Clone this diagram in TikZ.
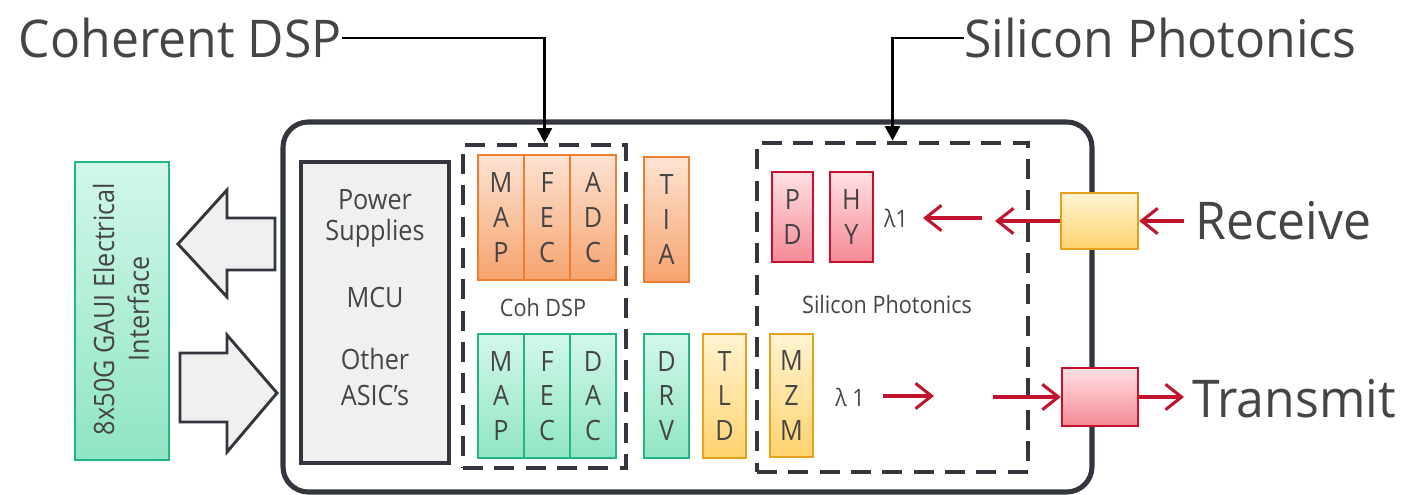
\documentclass[tikz,border=0pt]{standalone}
\usepackage{fontspec}
\setmainfont{Open Sans}[FakeStretch=0.9]
\newfontfamily\bigfamily{Open Sans}[FakeStretch=0.96]
\usetikzlibrary{arrows.meta}
\definecolor{dk}{HTML}{33373D}
\definecolor{txt}{HTML}{454545}
\definecolor{orB}{HTML}{ED7D31}
\definecolor{orT}{HTML}{FDE3D2}
\definecolor{orD}{HTML}{F6A36E}
\definecolor{grB}{HTML}{22B583}
\definecolor{grT}{HTML}{D2F7E9}
\definecolor{grD}{HTML}{8FE5C3}
\definecolor{yeB}{HTML}{E3A21A}
\definecolor{yeT}{HTML}{FFF3D2}
\definecolor{yeD}{HTML}{FFD36E}
\definecolor{reB}{HTML}{C8102E}
\definecolor{reT}{HTML}{FFE0E2}
\definecolor{reD}{HTML}{F58A95}
\definecolor{rar}{HTML}{C2142F}
\definecolor{gyF}{HTML}{F0F0F0}
\tikzset{
  blk/.style={draw, line width=1.5pt, inner sep=0pt, align=center,
    font=\fontsize{21}{26}\selectfont, text=txt},
  orblk/.style={blk, draw=orB, top color=orT, bottom color=orD},
  grblk/.style={blk, draw=grB, top color=grT, bottom color=grD},
  yeblk/.style={blk, draw=yeB, top color=yeT, bottom color=yeD},
  reblk/.style={blk, draw=reB, top color=reT, bottom color=reD},
  dashbox/.style={draw=dk, line width=3.3pt, dash pattern=on 15pt off 8.5pt, inner sep=0pt},
  biglabel/.style={font=\bigfamily\fontsize{39}{44}\selectfont, text=txt, inner sep=0pt},
  midtext/.style={font=\fontsize{21}{26}\selectfont, text=txt, inner sep=0pt},
  smalltext/.style={font=\fontsize{18}{22}\selectfont, text=txt, inner sep=0pt},
  callout/.style={draw=black, line width=2.2pt, -{Triangle[length=11pt,width=11pt]}},
  redarrow/.style={draw=rar, line width=2.3pt, -{Straight Barb[length=12pt,width=19pt,line width=2.3pt]}},
  blockarrow/.style={draw=dk, fill=gyF, line width=2.2pt, line join=miter}
}
\begin{document}
\begin{tikzpicture}[x=0.75pt,y=-0.75pt]
\useasboundingbox (0,0) rectangle (1417,495);

% outer module
\node[draw=dk, line width=3.8pt, rounded corners=19pt, minimum width=606.75pt, minimum height=277.5pt, inner sep=0pt] (module) at (687.5,307) {};

% left interface
\node[draw=grB, line width=1.5pt, top color=grT, bottom color=grD, minimum width=70.5pt, minimum height=223.5pt, inner sep=0pt] (gaui) at (122,311) {};
\node[rotate=90, align=center, font=\fontsize{21}{26}\selectfont, text=txt, inner sep=0pt] (gauitext) at (121,309) {8x50G GAUI Electrical\\Interface};

% block arrows
\draw[blockarrow] (178,244) -- (227,190) -- (227,218) -- (275,218) -- (275,270) -- (227,270) -- (227,297) -- cycle;
\draw[blockarrow] (180,353) -- (227,353) -- (227,335) -- (277,393) -- (227,452) -- (227,422) -- (180,422) -- cycle;

% gray box
\node[draw=dk, line width=2.4pt, fill=gyF, minimum width=111pt, minimum height=225.75pt, inner sep=0pt] (misc) at (375,312.5) {};
\node[midtext, anchor=base] (power) at (375,210) {Power};
\node[midtext, anchor=base] (supplies) at (375,241) {Supplies};
\node[midtext, anchor=base] (mcu) at (375,307) {MCU};
\node[midtext, anchor=base] (other) at (375,369) {Other};
\node[midtext, anchor=base] (asics) at (375,405) {ASIC's};

% coherent DSP dashed box
\node[dashbox, minimum width=122.25pt, minimum height=242.25pt] (cohbox) at (544.5,306.5) {};
\node[orblk, minimum width=34.5pt, minimum height=93.75pt] (rmap) at (501,217.5) {M\\A\\P};
\node[orblk, minimum width=34.5pt, minimum height=93.75pt] (rfec) at (547,217.5) {F\\E\\C};
\node[orblk, minimum width=34.5pt, minimum height=93.75pt] (adc) at (593,217.5) {A\\D\\C};
\node[orblk, minimum width=33.75pt, minimum height=93.75pt] (tia) at (666.5,219.5) {T\\I\\A};
\node[smalltext] (cohdsp) at (543,307) {Coh DSP};
\node[grblk, minimum width=34.5pt, minimum height=93pt] (tmap) at (501,396) {M\\A\\P};
\node[grblk, minimum width=34.5pt, minimum height=93pt] (tfec) at (547,396) {F\\E\\C};
\node[grblk, minimum width=34.5pt, minimum height=93pt] (dac) at (593,396) {D\\A\\C};
\node[grblk, minimum width=33.75pt, minimum height=93pt] (drv) at (666.5,396) {D\\R\\V};
\node[yeblk, minimum width=32.25pt, minimum height=93pt] (tld) at (724.5,396) {T\\L\\D};

% silicon photonics dashed box
\node[dashbox, minimum width=203.25pt, minimum height=246.75pt] (sibox) at (892.5,307.5) {};
\node[reblk, minimum width=30.75pt, minimum height=67.5pt] (pd) at (792.5,217) {P\\D};
\node[reblk, minimum width=32.25pt, minimum height=67.5pt] (hy) at (851.5,217) {H\\Y};
\node[smalltext] (lrx) at (896,218) {λ1};
\node[smalltext] (siph) at (887,305) {Silicon Photonics};
\node[yeblk, minimum width=32.25pt, minimum height=92.25pt] (mzm) at (791.5,395.5) {M\\Z\\M};
\node[smalltext] (ltx) at (850,397) {λ 1};

% optical ports
\node[draw=yeB, line width=1.8pt, top color=yeT, bottom color=yeD, minimum width=57.75pt, minimum height=42pt, inner sep=0pt] (rxport) at (1099.5,221) {};
\node[draw=reB, line width=1.8pt, top color=reT, bottom color=reD, minimum width=57pt, minimum height=43.5pt, inner sep=0pt] (txport) at (1100,397) {};

% labels
\node[biglabel, anchor=east] (cohlabel) at (342,38) {Coherent DSP};
\node[biglabel, anchor=west] (silabel) at (964,38) {Silicon Photonics};
\node[biglabel, anchor=west] (rxlabel) at (1195,221) {Receive};
\node[biglabel, anchor=west] (txlabel) at (1192,399) {Transmit};

% callouts
\draw[callout] (cohlabel.east) -| (cohbox.north);
\draw[callout] (silabel.west) -| (sibox.north);

% red arrows
\coordinate (rxa1s) at (982,218);
\coordinate (rxa1e) at (923,218);
\coordinate (rxa2e) at (995,221);
\coordinate (rxin) at (1184,221);
\coordinate (txa1s) at (883,396);
\coordinate (txa1e) at (934,396);
\coordinate (txa2s) at (993,397);
\coordinate (txout) at (1184,397);
\draw[redarrow] (rxa1s) -- (rxa1e);
\draw[redarrow] (rxport.west) -- (rxa2e);
\draw[redarrow] (rxin) -- (rxport.east);
\draw[redarrow] (txa1s) -- (txa1e);
\draw[redarrow] (txa2s) -- (txport.west);
\draw[redarrow] (txport.east) -- (txout);
\end{tikzpicture}
\end{document}
